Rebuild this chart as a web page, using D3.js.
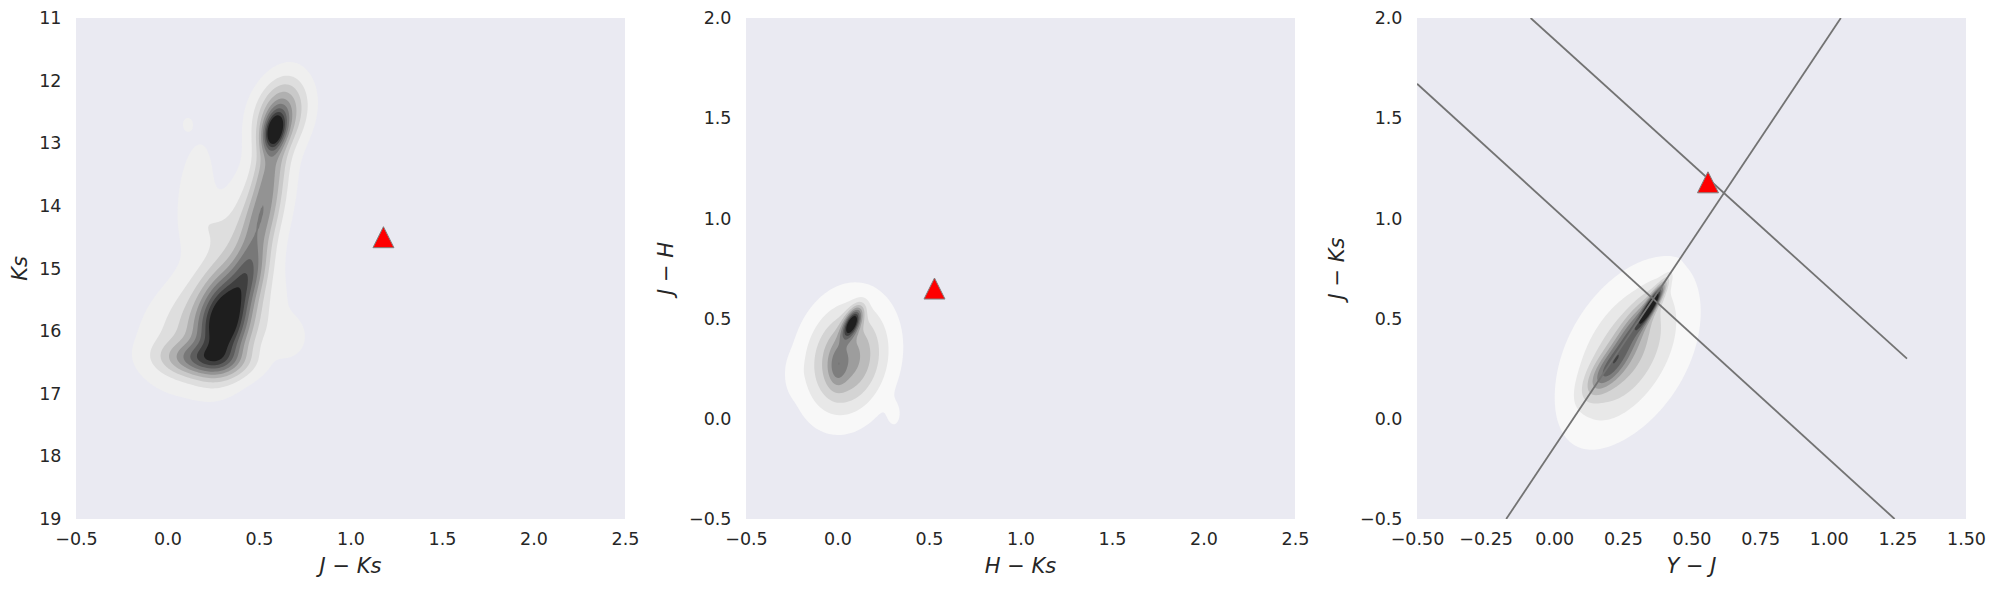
<!DOCTYPE html>
<html>
<head>
<meta charset="utf-8">
<script src="https://cdn.jsdelivr.net/npm/d3@7"></script>
<style>
  body { margin: 0; background: #ffffff; }
  text { font-family: "DejaVu Sans", sans-serif; fill: #262626; }
</style>
</head>
<body>
<div id="chart"></div>
<script>
// Size of the page and of each panel
var svgWidth = 1997;
var svgHeight = 591;
var panelLefts = [76, 746, 1417];
var panelTop = 18;
var panelWidth = 549;
var panelHeight = 501;

// ---- data ----
// density blobs: [height, centre x, centre y, spread x, spread y, correlation]
var ksBlobs = [
  [0.80, 0.31, 15.85, 0.090, 0.45, -0.20],
  [0.42, 0.20, 16.45, 0.140, 0.18, 0.10],
  [0.38, 0.44, 15.10, 0.070, 0.35, -0.40],
  [0.30, 0.51, 14.20, 0.070, 0.45, -0.50],
  [0.25, 0.56, 13.40, 0.060, 0.40, -0.40],
  [0.70, 0.585, 12.80, 0.040, 0.20, -0.30],
  [0.30, 0.61, 12.60, 0.080, 0.38, -0.30],
  [0.24, 0.24, 15.90, 0.200, 0.55, -0.30],
  [0.15, 0.42, 14.50, 0.150, 0.80, -0.60],
  [0.15, 0.62, 12.50, 0.100, 0.35, -0.20],
  [0.07, 0.15, 13.80, 0.070, 0.60, -0.30],
  [0.05, 0.23, 14.30, 0.070, 0.25, 0.00],
  [0.08, 0.66, 16.10, 0.060, 0.20, 0.00],
  [0.06, 0.11, 12.70, 0.020, 0.08, 0.00]
];
var jhBlobs = [
  [0.80, 0.080, 0.478, 0.035, 0.050, 0.60],
  [0.18, 0.000, 0.265, 0.035, 0.070, 0.10],
  [0.43, 0.050, 0.300, 0.134, 0.165, 0.15],
  [0.04, -0.240, 0.220, 0.030, 0.060, 0.00],
  [0.04, 0.310, 0.020, 0.030, 0.050, 0.00]
];
var jkBlobs = [
  [0.90, 0.355, 0.570, 0.030, 0.065, 0.90],
  [0.32, 0.280, 0.430, 0.055, 0.120, 0.85],
  [0.30, 0.190, 0.240, 0.050, 0.080, 0.70],
  [0.16, 0.260, 0.320, 0.100, 0.200, 0.60],
  [0.16, 0.270, 0.330, 0.140, 0.240, 0.40]
];
var levels = [0.03, 0.10, 0.18, 0.27, 0.37, 0.47, 0.58, 0.69, 0.80];

// the red triangle (the target) in each panel
var targetJK = 1.18, targetKs = 14.5;
var targetHK = 0.53, targetJH = 0.65;
var targetYJ = 0.56, targetJK3 = 1.18;

// straight lines in the third panel, end points
var lineYJ = [[-0.175, 1.044], [-0.086, 1.285], [-0.5, 1.24]];
var lineJK = [[-0.5, 2.0], [2.0, 0.30], [1.672, -0.5]];

// ticks
var xTicks12 = [-0.5, 0.0, 0.5, 1.0, 1.5, 2.0, 2.5];
var yTicksKs = [11, 12, 13, 14, 15, 16, 17, 18, 19];
var yTicksJH = [-0.5, 0.0, 0.5, 1.0, 1.5, 2.0];
var xTicks3 = [-0.5, -0.25, 0.0, 0.25, 0.5, 0.75, 1.0, 1.25, 1.5];

var panels = [
  { xDom: [-0.5, 2.5], yDom: [19, 11], xTicks: xTicks12, yTicks: yTicksKs, xDec: 1, yDec: 0,
    blobs: ksBlobs, grey: [0.125, 0.9], xLab: ["J", "Ks"], yLab: ["Ks"], yLabX: 20,
    tx: targetJK, ty: targetKs },
  { xDom: [-0.5, 2.5], yDom: [-0.5, 2.0], xTicks: xTicks12, yTicks: yTicksJH, xDec: 1, yDec: 1,
    blobs: jhBlobs, grey: [0.06, 0.9], xLab: ["H", "Ks"], yLab: ["J", "H"], yLabX: 666,
    tx: targetHK, ty: targetJH },
  { xDom: [-0.5, 1.5], yDom: [-0.5, 2.0], xTicks: xTicks3, yTicks: yTicksJH, xDec: 2, yDec: 1,
    blobs: jkBlobs, grey: [0.06, 0.9], xLab: ["Y", "J"], yLab: ["J", "Ks"], yLabX: 1337,
    tx: targetYJ, ty: targetJK3 }
];

var svg = d3.select("#chart")
  .append("svg")
  .attr("width", svgWidth)
  .attr("height", svgHeight);

var defs = svg.append("defs");

function fmt(dec) {
  return function (d) { return d3.format("." + dec + "f")(d).replace("-", "\u2212"); };
}

function mixture(blobs) {
  return function (x, y) {
    var v = 0;
    blobs.forEach(function (b) {
      var dx = (x - b[1]) / b[3], dy = (y - b[2]) / b[4], r = b[5];
      v += b[0] * Math.exp(-0.5 * (dx * dx - 2 * r * dx * dy + dy * dy) / (1 - r * r));
    });
    return v;
  };
}

// axis label: italic letters with an upright minus between them
function mathLabel(sel, parts) {
  parts.forEach(function (p, i) {
    if (i > 0) sel.append("tspan").style("font-style", "normal").text(" \u2212 ");
    sel.append("tspan").style("font-style", "italic").text(p);
  });
}

panels.forEach(function (p, i) {
  var x = d3.scaleLinear().domain(p.xDom).range([0, panelWidth]);
  var y = d3.scaleLinear().domain(p.yDom).range([panelHeight, 0]);

  var g = svg.append("g")
    .attr("transform", `translate(${panelLefts[i]}, ${panelTop})`);

  defs.append("clipPath").attr("id", "clip" + i)
    .append("rect").attr("width", panelWidth).attr("height", panelHeight);

  g.append("rect")
    .attr("width", panelWidth)
    .attr("height", panelHeight)
    .attr("fill", "#eaeaf2");

  // density grid -> filled contours
  var cell = 2;
  var nx = Math.ceil(panelWidth / cell), ny = Math.ceil(panelHeight / cell);
  var f = mixture(p.blobs);
  var vals = new Array(nx * ny);
  for (var j = 0; j < ny; j++) {
    for (var k = 0; k < nx; k++) {
      vals[j * nx + k] = f(x.invert((k + 0.5) * cell), y.invert((j + 0.5) * cell));
    }
  }
  var contours = d3.contours().size([nx, ny]).thresholds(levels)(vals);
  var shade = d3.scaleLinear().domain([0, levels.length - 1]).range(p.grey);
  var geo = d3.geoPath(d3.geoIdentity().scale(cell));

  g.append("g")
    .attr("clip-path", `url(#clip${i})`)
    .selectAll("path")
    .data(contours)
    .enter()
    .append("path")
    .attr("d", geo)
    .attr("fill", (d, n) => d3.interpolateGreys(shade(n)));

  // lines of the third panel
  if (i === 2) {
    var lineData = lineYJ.map((xs, n) => xs.map((xv, m) => [xv, lineJK[n][m]]));
    g.append("g")
      .attr("clip-path", `url(#clip${i})`)
      .selectAll("path.ln")
      .data(lineData)
      .enter()
      .append("path")
      .attr("class", "ln")
      .attr("d", d3.line().x(d => x(d[0])).y(d => y(d[1])))
      .attr("fill", "none")
      .attr("stroke", "#737373")
      .attr("stroke-width", 1.8);
  }

  // red triangle
  var tx = x(p.tx), ty = y(p.ty), s = 10.5;
  g.append("path")
    .attr("d", `M${tx},${ty - s}L${tx + s},${ty + s}L${tx - s},${ty + s}Z`)
    .attr("fill", "#ff0000")
    .attr("stroke", "#808080")
    .attr("stroke-width", 1);

  // axes
  var bottomAxis = d3.axisBottom(x).tickValues(p.xTicks).tickFormat(fmt(p.xDec)).tickSize(0).tickPadding(14);
  var leftAxis = d3.axisLeft(y).tickValues(p.yTicks).tickFormat(fmt(p.yDec)).tickSize(0).tickPadding(14.5);

  var gx = g.append("g").attr("transform", `translate(0, ${panelHeight})`).call(bottomAxis);
  var gy = g.append("g").call(leftAxis);
  [gx, gy].forEach(function (a) {
    a.select(".domain").remove();
    a.selectAll("text").style("font-size", "17.5px").attr("fill", "#262626");
  });

  // axis titles
  var xl = svg.append("text")
    .attr("x", panelLefts[i] + panelWidth / 2)
    .attr("y", 566)
    .attr("dy", "0.35em")
    .style("text-anchor", "middle")
    .style("font-size", "21px");
  mathLabel(xl, p.xLab);

  var yl = svg.append("text")
    .attr("transform", `translate(${p.yLabX}, ${panelTop + panelHeight / 2}) rotate(-90)`)
    .attr("dy", "0.35em")
    .style("text-anchor", "middle")
    .style("font-size", "21px");
  mathLabel(yl, p.yLab);
});
</script>
</body>
</html>
